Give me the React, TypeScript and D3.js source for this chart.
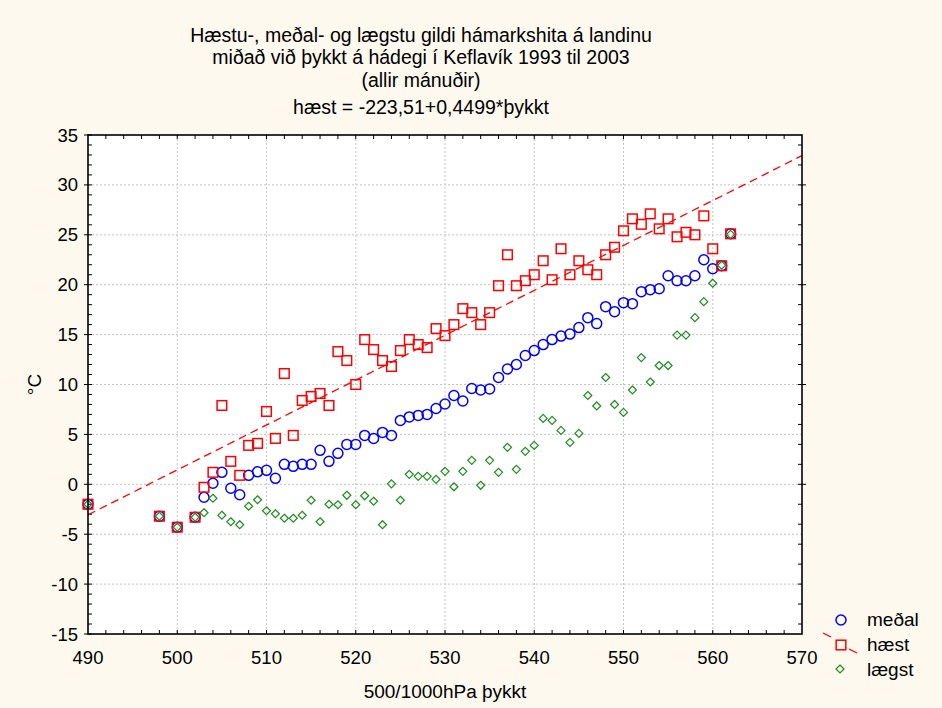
import React, { useEffect, useRef } from "react";
import * as d3 from "d3";

// þykkt values (500/1000 hPa thickness, dam)
const thykkt = [
  490, 498, 500, 502, 503, 504, 505, 506, 507, 508, 509, 510, 511, 512, 513,
  514, 515, 516, 517, 518, 519, 520, 521, 522, 523, 524, 525, 526, 527, 528,
  529, 530, 531, 532, 533, 534, 535, 536, 537, 538, 539, 540, 541, 542, 543,
  544, 545, 546, 547, 548, 549, 550, 551, 552, 553, 554, 555, 556, 557, 558,
  559, 560, 561, 562,
];

const medal = [
  -2, -3.2, -4.3, -3.3, -1.3, 0.1, 1.2, -0.4, -1.05, 0.9, 1.25, 1.4, 0.6, 2.0,
  1.8, 2.0, 2.0, 3.4, 2.3, 3.1, 4.0, 4.0, 4.9, 4.6, 5.2, 4.9, 6.4, 6.75, 6.9,
  7.0, 7.6, 8.05, 8.9, 8.35, 9.6, 9.45, 9.55, 10.7, 11.55, 12.0, 12.9, 13.4,
  14.0, 14.5, 14.85, 15.05, 15.7, 16.7, 16.1, 17.8, 17.3, 18.2, 18.1, 19.3,
  19.5, 19.6, 20.9, 20.4, 20.4, 20.9, 22.5, 21.6, 21.9, 25.1,
];

const haest = [
  -2, -3.2, -4.3, -3.3, -0.3, 1.2, 7.9, 2.3, 0.9, 3.9, 4.1, 7.3, 4.6, 11.1,
  4.9, 8.4, 8.8, 9.1, 7.9, 13.3, 12.4, 10.0, 14.5, 13.5, 12.4, 11.8, 13.4,
  14.5, 14.0, 13.7, 15.6, 14.9, 16.0, 17.6, 17.2, 16.0, 17.2, 19.9, 23.0,
  19.9, 20.4, 21.0, 22.4, 20.5, 23.6, 21.0, 22.4, 21.5, 21.0, 23.0, 23.75,
  25.4, 26.6, 26.05, 27.1, 25.6, 26.6, 24.8, 25.25, 25.0, 26.9, 23.6, 21.9,
  25.1,
];

const laegst = [
  -2, -3.2, -4.3, -3.3, -2.85, -1.4, -3.1, -3.75, -4.05, -2.2, -1.55, -2.65,
  -2.95, -3.4, -3.4, -3.1, -1.6, -3.75, -2.0, -2.05, -1.1, -2.05, -1.15, -1.7,
  -4.05, 0.05, -1.6, 1.0, 0.8, 0.8, 0.5, 1.3, -0.25, 1.3, 2.4, -0.1, 2.4, 1.2,
  3.7, 1.5, 3.3, 3.9, 6.6, 6.4, 5.4, 4.2, 5.1, 8.9, 7.85, 10.7, 8.0, 7.2,
  9.45, 12.7, 10.25, 11.9, 11.9, 14.95, 14.95, 16.7, 18.3, 20.15, 21.95, 25.05,
];

// regression for hæst, as printed in the title
const intercept = -223.51;
const slope = 0.4499;

const titleLines = [
  "Hæstu-, meðal- og lægstu gildi hámarkshita á landinu",
  "miðað við þykkt á hádegi í Keflavík 1993 til 2003",
  "(allir mánuðir)",
  "hæst = -223,51+0,4499*þykkt",
];

const xTicks = [490, 500, 510, 520, 530, 540, 550, 560, 570];
const yTicks = [-15, -10, -5, 0, 5, 10, 15, 20, 25, 30, 35];

const App: React.FC = () => {
  const ref = useRef<SVGSVGElement>(null);

  useEffect(() => {
    drawChart();
  }, []);

  const drawChart = () => {
    const W = 942;
    const H = 708;
    const margin = { top: 135, right: 140, bottom: 74, left: 88 };
    const width = W - margin.left - margin.right;
    const height = H - margin.top - margin.bottom;
    const font = "'Liberation Sans', Arial, sans-serif";

    const root = d3.select(ref.current);
    root.selectAll("*").remove();
    root.attr("width", W).attr("height", H);

    root
      .append("rect")
      .attr("width", W)
      .attr("height", H)
      .attr("fill", "#fdf9ef");

    // title
    const ty = [42, 64, 87, 114];
    titleLines.forEach((t, i) => {
      root
        .append("text")
        .attr("x", 421)
        .attr("y", ty[i])
        .attr("text-anchor", "middle")
        .attr("font-family", font)
        .attr("font-size", 19.5)
        .attr("fill", "#000")
        .text(t);
    });

    const svg = root
      .append("g")
      .attr("transform", `translate(${margin.left},${margin.top})`);

    const x = d3.scaleLinear().domain([490, 570]).range([0, width]);
    const y = d3.scaleLinear().domain([-15, 35]).range([height, 0]);

    svg
      .append("rect")
      .attr("width", width)
      .attr("height", height)
      .attr("fill", "#fff");

    // grid
    xTicks.slice(1, -1).forEach((t) => {
      svg
        .append("line")
        .attr("x1", x(t))
        .attr("x2", x(t))
        .attr("y1", 0)
        .attr("y2", height)
        .attr("stroke", "#c4c4c4")
        .attr("stroke-dasharray", "2,2");
    });
    yTicks.slice(1, -1).forEach((t) => {
      svg
        .append("line")
        .attr("x1", 0)
        .attr("x2", width)
        .attr("y1", y(t))
        .attr("y2", y(t))
        .attr("stroke", "#c4c4c4")
        .attr("stroke-dasharray", "2,2");
    });

    // small ticks
    const ticks = svg.append("g").attr("stroke", "#000").attr("stroke-width", 1);
    d3.range(-15, 36, 1).forEach((v) => {
      ticks
        .append("line")
        .attr("x1", 0)
        .attr("x2", 4)
        .attr("y1", y(v))
        .attr("y2", y(v));
    });
    yTicks.forEach((v) => {
      ticks
        .append("line")
        .attr("x1", -4)
        .attr("x2", 0)
        .attr("y1", y(v))
        .attr("y2", y(v));
    });
    d3.range(-14, 35, 2).forEach((v) => {
      ticks
        .append("line")
        .attr("x1", width - 4)
        .attr("x2", width)
        .attr("y1", y(v))
        .attr("y2", y(v));
    });
    [0, 10, 20, 30].forEach((v) => {
      ticks
        .append("line")
        .attr("x1", width)
        .attr("x2", width + 4)
        .attr("y1", y(v))
        .attr("y2", y(v));
    });
    d3.range(492, 570, 2).forEach((v) => {
      ticks
        .append("line")
        .attr("x1", x(v))
        .attr("x2", x(v))
        .attr("y1", 0)
        .attr("y2", 4);
      ticks
        .append("line")
        .attr("x1", x(v))
        .attr("x2", x(v))
        .attr("y1", height - 4)
        .attr("y2", height);
    });

    // tick labels
    xTicks.forEach((t) => {
      svg
        .append("text")
        .attr("x", x(t))
        .attr("y", height + 30)
        .attr("text-anchor", "middle")
        .attr("font-family", font)
        .attr("font-size", 18.5)
        .text(t);
    });
    yTicks.forEach((t) => {
      svg
        .append("text")
        .attr("x", -10)
        .attr("y", y(t) + 6.5)
        .attr("text-anchor", "end")
        .attr("font-family", font)
        .attr("font-size", 18.5)
        .text(t);
    });

    // axis titles
    svg
      .append("text")
      .attr("x", width / 2)
      .attr("y", height + 64)
      .attr("text-anchor", "middle")
      .attr("font-family", font)
      .attr("font-size", 19)
      .text("500/1000hPa þykkt");
    svg
      .append("text")
      .attr("transform", `translate(${-47},${height / 2}) rotate(-90)`)
      .attr("text-anchor", "middle")
      .attr("font-family", font)
      .attr("font-size", 19)
      .text("°C");

    const clip = svg.append("g");

    // regression line
    const line = d3
      .line<number>()
      .x((d) => x(d))
      .y((d) => y(intercept + slope * d));
    clip
      .append("path")
      .datum([490, 570])
      .attr("d", line)
      .attr("fill", "none")
      .attr("stroke", "#ff0000")
      .attr("stroke-width", 1.3)
      .attr("stroke-dasharray", "8,5");

    // points
    const pts = thykkt.map((t, i) => ({
      t,
      m: medal[i],
      h: haest[i],
      l: laegst[i],
    }));

    clip
      .selectAll(".medal")
      .data(pts)
      .enter()
      .append("circle")
      .attr("cx", (d) => x(d.t))
      .attr("cy", (d) => y(d.m))
      .attr("r", 5)
      .attr("fill", "none")
      .attr("stroke", "#0000ff")
      .attr("stroke-width", 1.5);

    clip
      .selectAll(".haest")
      .data(pts)
      .enter()
      .append("rect")
      .attr("x", (d) => x(d.t) - 4.8)
      .attr("y", (d) => y(d.h) - 4.8)
      .attr("width", 9.6)
      .attr("height", 9.6)
      .attr("fill", "none")
      .attr("stroke", "#ff0000")
      .attr("stroke-width", 1.5);

    const diamond = (cx: number, cy: number, r: number) =>
      `M${cx},${cy - r}L${cx + r},${cy}L${cx},${cy + r}L${cx - r},${cy}Z`;

    clip
      .selectAll(".laegst")
      .data(pts)
      .enter()
      .append("path")
      .attr("d", (d) => diamond(x(d.t), y(d.l), 4))
      .attr("fill", "none")
      .attr("stroke", "#1e8c1e")
      .attr("stroke-width", 1.2);

    // frame
    svg
      .append("rect")
      .attr("width", width)
      .attr("height", height)
      .attr("fill", "none")
      .attr("stroke", "#000")
      .attr("stroke-width", 1.6);

    // legend
    const lg = root.append("g").attr("font-family", font).attr("font-size", 19);
    lg.append("circle")
      .attr("cx", 841)
      .attr("cy", 620)
      .attr("r", 5)
      .attr("fill", "none")
      .attr("stroke", "#0000ff")
      .attr("stroke-width", 1.5);
    lg.append("text").attr("x", 867).attr("y", 626).text("meðal");

    lg.append("line")
      .attr("x1", 823)
      .attr("y1", 633)
      .attr("x2", 831)
      .attr("y2", 637)
      .attr("stroke", "#ff0000")
      .attr("stroke-width", 1.3);
    lg.append("line")
      .attr("x1", 849)
      .attr("y1", 649)
      .attr("x2", 857)
      .attr("y2", 653)
      .attr("stroke", "#ff0000")
      .attr("stroke-width", 1.3);
    lg.append("rect")
      .attr("x", 836.2)
      .attr("y", 640.2)
      .attr("width", 9.6)
      .attr("height", 9.6)
      .attr("fill", "none")
      .attr("stroke", "#ff0000")
      .attr("stroke-width", 1.5);
    lg.append("text").attr("x", 867).attr("y", 651).text("hæst");

    lg.append("path")
      .attr("d", diamond(840, 669, 4))
      .attr("fill", "none")
      .attr("stroke", "#1e8c1e")
      .attr("stroke-width", 1.2);
    lg.append("text").attr("x", 867).attr("y", 676).text("lægst");
  };

  return (
    <svg
      ref={ref}
      style={{ position: "absolute", left: 0, top: 0, display: "block" }}
    ></svg>
  );
};

export default App;
